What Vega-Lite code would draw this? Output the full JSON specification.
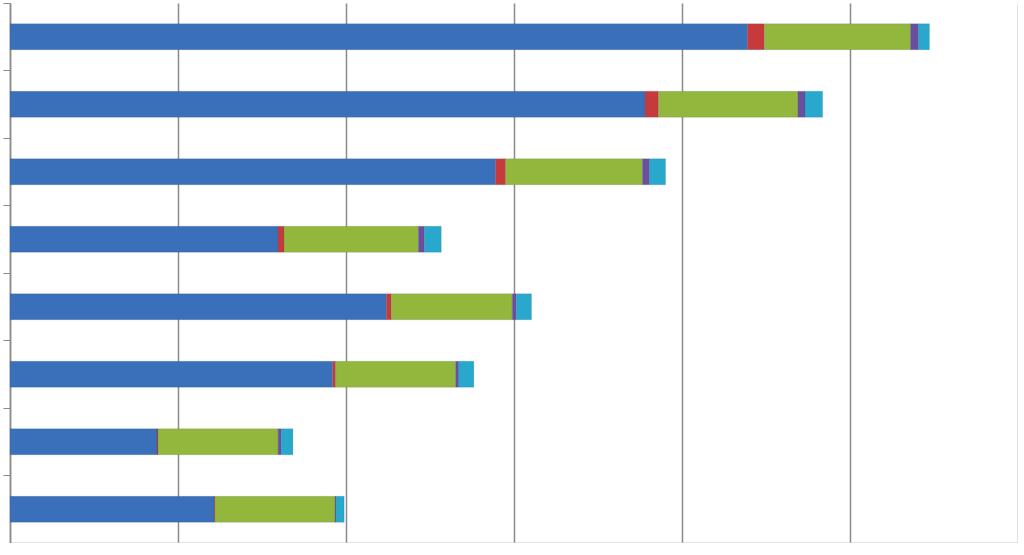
{
  "$schema": "https://vega.github.io/schema/vega-lite/v6.json",
  "autosize": {"type": "none"},
  "padding": {"left": 10, "top": 3, "right": 0, "bottom": 0},
  "width": 1008,
  "height": 540,
  "background": "white",
  "data": {
    "values": [
      {"row": "r1", "series": "A", "k": 1, "value": 439},
      {"row": "r1", "series": "B", "k": 2, "value": 10},
      {"row": "r1", "series": "C", "k": 3, "value": 87},
      {"row": "r1", "series": "D", "k": 4, "value": 4.8},
      {"row": "r1", "series": "E", "k": 5, "value": 6.5},
      {"row": "r2", "series": "A", "k": 1, "value": 378},
      {"row": "r2", "series": "B", "k": 2, "value": 8},
      {"row": "r2", "series": "C", "k": 3, "value": 83},
      {"row": "r2", "series": "D", "k": 4, "value": 4.2},
      {"row": "r2", "series": "E", "k": 5, "value": 10.5},
      {"row": "r3", "series": "A", "k": 1, "value": 289},
      {"row": "r3", "series": "B", "k": 2, "value": 6},
      {"row": "r3", "series": "C", "k": 3, "value": 81.5},
      {"row": "r3", "series": "D", "k": 4, "value": 4.2},
      {"row": "r3", "series": "E", "k": 5, "value": 9.5},
      {"row": "r4", "series": "A", "k": 1, "value": 159.5},
      {"row": "r4", "series": "B", "k": 2, "value": 3.6},
      {"row": "r4", "series": "C", "k": 3, "value": 80},
      {"row": "r4", "series": "D", "k": 4, "value": 3.6},
      {"row": "r4", "series": "E", "k": 5, "value": 10},
      {"row": "r5", "series": "A", "k": 1, "value": 224},
      {"row": "r5", "series": "B", "k": 2, "value": 3},
      {"row": "r5", "series": "C", "k": 3, "value": 72},
      {"row": "r5", "series": "D", "k": 4, "value": 2.4},
      {"row": "r5", "series": "E", "k": 5, "value": 9},
      {"row": "r6", "series": "A", "k": 1, "value": 192},
      {"row": "r6", "series": "B", "k": 2, "value": 1.8},
      {"row": "r6", "series": "C", "k": 3, "value": 71.5},
      {"row": "r6", "series": "D", "k": 4, "value": 1.8},
      {"row": "r6", "series": "E", "k": 5, "value": 9},
      {"row": "r7", "series": "A", "k": 1, "value": 87.5},
      {"row": "r7", "series": "B", "k": 2, "value": 0.6},
      {"row": "r7", "series": "C", "k": 3, "value": 71.5},
      {"row": "r7", "series": "D", "k": 4, "value": 1.8},
      {"row": "r7", "series": "E", "k": 5, "value": 7},
      {"row": "r8", "series": "A", "k": 1, "value": 121.5},
      {"row": "r8", "series": "B", "k": 2, "value": 0.5},
      {"row": "r8", "series": "C", "k": 3, "value": 71.5},
      {"row": "r8", "series": "D", "k": 4, "value": 0.6},
      {"row": "r8", "series": "E", "k": 5, "value": 4.8}
    ]
  },
  "mark": {"type": "bar", "height": {"band": 0.385}, "stroke": "#2d4f7c", "strokeOpacity": 0.25, "strokeWidth": 0.6},
  "encoding": {
    "y": {
      "field": "row",
      "type": "nominal",
      "sort": null,
      "scale": {"paddingInner": 0, "paddingOuter": 0},
      "axis": {
        "title": null,
        "labels": false,
        "bandPosition": 0,
        "ticks": true,
        "tickSize": 7,
        "tickColor": "#8a8a8a",
        "domainColor": "#8a8a8a",
        "domainWidth": 1.5,
        "grid": false
      }
    },
    "x": {
      "field": "value",
      "type": "quantitative",
      "stack": "zero",
      "scale": {"domain": [0, 600], "nice": false},
      "axis": {
        "title": null,
        "labels": false,
        "values": [0, 100, 200, 300, 400, 500, 600],
        "grid": true,
        "gridColor": "#8a8a8a",
        "gridWidth": 1.5,
        "gridOpacity": 1,
        "ticks": true,
        "tickSize": 6,
        "tickColor": "#8a8a8a",
        "tickWidth": 1.5,
        "domainColor": "#c8c8c8",
        "domainWidth": 2
      }
    },
    "color": {
      "field": "series",
      "type": "nominal",
      "scale": {
        "domain": ["A", "B", "C", "D", "E"],
        "range": ["#3a6fb9", "#c73a3c", "#93b73d", "#6a4f9e", "#27a8cc"]
      },
      "legend": null
    },
    "order": {"field": "k", "type": "quantitative"}
  },
  "config": {"view": {"stroke": null}}
}
